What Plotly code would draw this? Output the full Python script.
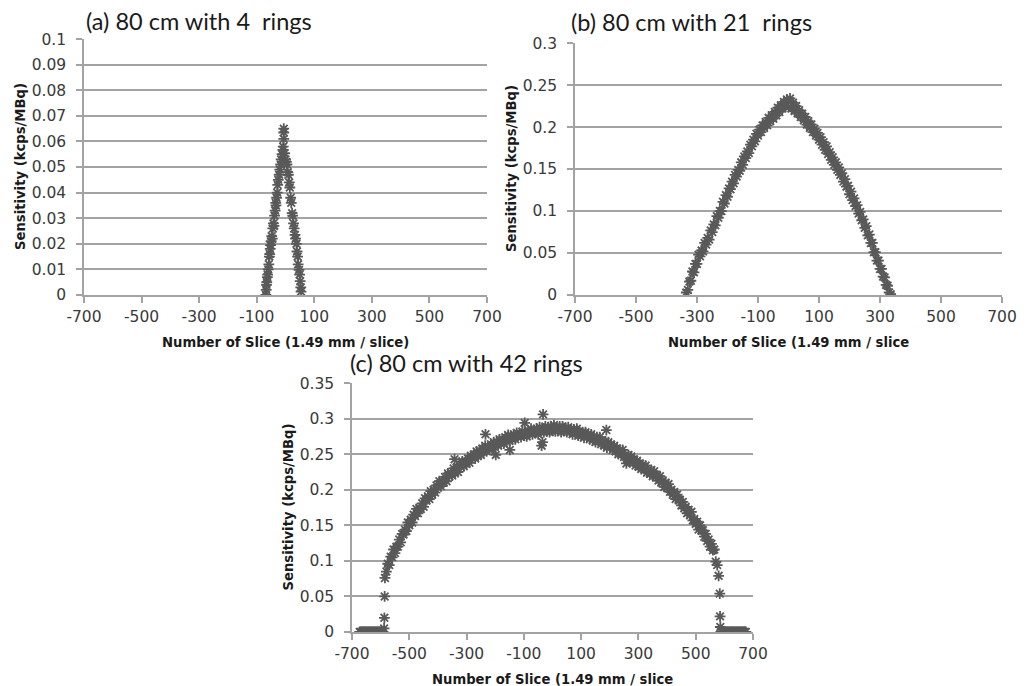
import plotly.graph_objects as go

# ---- (a) 80 cm with 4 rings ----
a_x = [-68, -67, -66, -65, -63, -62, -60, -58, -56, -55, -53, -52, -50, -48, -46, -44,
       -42, -40, -38, -36, -34, -33, -31, -29, -27, -25, -22, -20, -17, -15, -12, -9,
       -8, -6, -6, -6, -3, 0, 3, 5, 8, 10, 13, 15, 18, 20, 23, 25, 28, 30, 33, 35, 38,
       40, 42, 44, 47, 49, 51, 53, 54]
a_y = [0.000, 0.002, 0.004, 0.005, 0.007, 0.008, 0.010, 0.012, 0.015, 0.016, 0.018, 0.0195,
       0.021, 0.023, 0.022, 0.026, 0.028, 0.027, 0.031, 0.033, 0.036, 0.035, 0.038, 0.040,
       0.043, 0.045, 0.047, 0.049, 0.051, 0.053, 0.055, 0.0567, 0.058, 0.061, 0.0635, 0.065,
       0.0554, 0.053, 0.052, 0.051, 0.048, 0.047, 0.044, 0.042, 0.038, 0.036, 0.032, 0.031,
       0.028, 0.026, 0.0235, 0.022, 0.020, 0.017, 0.015, 0.012, 0.0098, 0.008, 0.0054, 0.003,
       0.0013]

# ---- (b) 80 cm with 21 rings ----
b_x = list(range(-335, 336, 5))
b_y = [0.003, 0.006, 0.016, 0.017, 0.028, 0.027, 0.037, 0.037, 0.048, 0.046,
       0.053, 0.052, 0.062, 0.060, 0.068, 0.066, 0.077, 0.075, 0.084, 0.083,
       0.094, 0.092, 0.100, 0.100, 0.111, 0.109, 0.119, 0.117, 0.127, 0.126,
       0.135, 0.133, 0.143, 0.141, 0.149, 0.148, 0.158, 0.155, 0.165, 0.163,
       0.171, 0.169, 0.179, 0.177, 0.185, 0.183, 0.192, 0.190, 0.197, 0.194,
       0.202, 0.199, 0.206, 0.202, 0.211, 0.207, 0.214, 0.210, 0.218, 0.214,
       0.223, 0.218, 0.226, 0.222, 0.230, 0.225, 0.233, 0.224, 0.234, 0.222,
       0.229, 0.219, 0.225, 0.216, 0.220, 0.212, 0.216, 0.208, 0.212, 0.203,
       0.207, 0.199, 0.203, 0.194, 0.198, 0.190, 0.193, 0.185, 0.188, 0.179,
       0.182, 0.173, 0.177, 0.168, 0.170, 0.161, 0.164, 0.155, 0.158, 0.149,
       0.152, 0.143, 0.145, 0.135, 0.138, 0.129, 0.130, 0.120, 0.123, 0.113,
       0.115, 0.106, 0.107, 0.097, 0.099, 0.089, 0.090, 0.080, 0.082, 0.071,
       0.072, 0.062, 0.062, 0.051, 0.051, 0.041, 0.041, 0.031, 0.031, 0.022,
       0.021, 0.012, 0.011, 0.003, 0.001]

# ---- (c) 80 cm with 42 rings ----
c_band_x = list(range(-585, 581, 5))
c_band_y = [0.076, 0.085, 0.096, 0.094, 0.106, 0.105, 0.116, 0.111, 0.120, 0.120,
            0.130, 0.126, 0.138, 0.137, 0.144, 0.142, 0.154, 0.150, 0.158, 0.154,
            0.165, 0.163, 0.173, 0.167, 0.174, 0.173, 0.181, 0.176, 0.188, 0.185,
            0.191, 0.187, 0.198, 0.193, 0.200, 0.196, 0.206, 0.203, 0.212, 0.205,
            0.212, 0.210, 0.218, 0.212, 0.223, 0.219, 0.224, 0.220, 0.230, 0.224,
            0.231, 0.225, 0.235, 0.232, 0.240, 0.233, 0.239, 0.237, 0.244, 0.238,
            0.248, 0.245, 0.249, 0.244, 0.254, 0.248, 0.255, 0.249, 0.258, 0.254,
            0.262, 0.254, 0.260, 0.257, 0.264, 0.257, 0.267, 0.263, 0.267, 0.262,
            0.271, 0.265, 0.271, 0.265, 0.274, 0.269, 0.277, 0.269, 0.275, 0.271,
            0.278, 0.271, 0.280, 0.276, 0.279, 0.274, 0.282, 0.276, 0.281, 0.275,
            0.283, 0.279, 0.286, 0.278, 0.283, 0.280, 0.286, 0.278, 0.288, 0.283,
            0.286, 0.281, 0.289, 0.282, 0.288, 0.281, 0.289, 0.284, 0.291, 0.282,
            0.287, 0.283, 0.289, 0.281, 0.289, 0.284, 0.287, 0.281, 0.288, 0.281,
            0.285, 0.278, 0.285, 0.279, 0.286, 0.276, 0.281, 0.276, 0.281, 0.273,
            0.281, 0.275, 0.278, 0.271, 0.278, 0.270, 0.274, 0.267, 0.274, 0.268,
            0.274, 0.264, 0.268, 0.263, 0.268, 0.259, 0.267, 0.261, 0.263, 0.256,
            0.262, 0.254, 0.258, 0.250, 0.256, 0.250, 0.256, 0.246, 0.249, 0.244,
            0.249, 0.239, 0.247, 0.240, 0.242, 0.234, 0.241, 0.233, 0.237, 0.229,
            0.235, 0.229, 0.234, 0.224, 0.228, 0.223, 0.228, 0.219, 0.226, 0.219,
            0.220, 0.213, 0.219, 0.210, 0.213, 0.204, 0.210, 0.203, 0.208, 0.197,
            0.200, 0.193, 0.197, 0.187, 0.193, 0.186, 0.186, 0.178, 0.183, 0.174,
            0.176, 0.167, 0.172, 0.164, 0.169, 0.157, 0.159, 0.152, 0.155, 0.144,
            0.150, 0.143, 0.143, 0.134, 0.138, 0.128, 0.130, 0.120, 0.124, 0.115,
            0.116, 0.099, 0.094, 0.079]
# scattered slices lying off the main band
c_off_x = [-342, -234, -198, -149, -97, -38, -35, -33, 188, 258]
c_off_y = [0.243, 0.278, 0.249, 0.256, 0.294, 0.262, 0.267, 0.306, 0.284, 0.237]
# edge slices (rising step and the empty slices outside the field of view)
c_edge_x = [-588, -587, -586, 584, 585, 586]
c_edge_y = [0.005, 0.020, 0.050, 0.054, 0.022, 0.007]
c_zero_x = list(range(-673, -590, 3)) + list(range(588, 677, 3))
c_zero_y = [0.0] * len(c_zero_x)

c_x = c_zero_x + c_edge_x + c_band_x + c_off_x
c_y = c_zero_y + c_edge_y + c_band_y + c_off_y

x_tick_vals = [-700, -500, -300, -100, 100, 300, 500, 700]
x_tick_text = ["-700", "-500", "-300", "-100", "100", "300", "500", "700"]

titles = ["(a) 80 cm with 4\u00a0 rings", "(b) 80 cm with 21\u00a0 rings", "(c) 80 cm with 42 rings"]
x_titles = ["Number of Slice (1.49 mm / slice)", "Number of Slice (1.49 mm / slice",
            "Number of Slice (1.49 mm / slice"]
y_title = "Sensitivity (kcps/MBq)"

W, H = 1028, 686
GRID = "#a3a3a3"
MARK = "#595959"
TICK_FONT = dict(family="DejaVu Sans", size=15.5, color="#3a3a3a")
LABEL_FONT = dict(family="DejaVu Sans", size=13.2, color="#1a1a1a")
TITLE_FONT = dict(family="Lato", size=23.5, color="#1a1a1a")

# plot boxes in pixels: left, right, top, bottom
boxes = [(84, 487, 39, 295), (575, 1002, 43, 295), (352, 753, 383, 632)]
title_pos = [(84, 20.5), (569, 22), (348, 363)]
y_max = [0.1, 0.3, 0.35]
y_step = [0.01, 0.05, 0.05]
series = [(a_x, a_y), (b_x, b_y), (c_x, c_y)]

fig = go.Figure()
annotations = []
for i, ((l, r, t, b), (sx, sy)) in enumerate(zip(boxes, series)):
    n = "" if i == 0 else str(i + 1)
    fig.add_trace(go.Scatter(
        x=sx, y=sy, mode="markers", xaxis="x" + n, yaxis="y" + n,
        marker=dict(symbol="asterisk-open", size=9, color=MARK,
                    line=dict(color=MARK, width=1.8)),
        showlegend=False, hoverinfo="x+y"))
    fig.update_layout({
        "xaxis" + n: dict(
            domain=[l / W, r / W], anchor="y" + n, range=[-700, 700], automargin=False,
            tickvals=x_tick_vals, ticktext=x_tick_text, ticks="outside", ticklen=6,
            tickwidth=1.5, tickcolor=GRID, showline=True, linecolor=GRID, linewidth=1.5,
            showgrid=False, zeroline=False, tickfont=TICK_FONT, ticklabelstandoff=1),
        "yaxis" + n: dict(
            domain=[1 - b / H, 1 - t / H], anchor="x" + n, automargin=False,
            range=[0, y_max[i] * 1.0004], dtick=y_step[i], tick0=0,
            ticks="outside", ticklen=6, tickwidth=1.5, tickcolor=GRID,
            showline=True, linecolor=GRID, linewidth=1.5,
            showgrid=True, gridcolor=GRID, gridwidth=1.5, zeroline=False,
            tickfont=TICK_FONT, ticklabelstandoff=7),
    })
    tx, ty = title_pos[i]
    annotations.append(dict(
        text=titles[i], x=tx / W, y=1 - ty / H, xref="paper", yref="paper",
        xanchor="left", yanchor="middle", showarrow=False, font=TITLE_FONT))
    annotations.append(dict(
        text="<b>" + x_titles[i] + "</b>", x=(l + r) / 2 / W, y=1 - (b + 47.5) / H,
        xref="paper", yref="paper", xanchor="center", yanchor="middle",
        showarrow=False, font=LABEL_FONT))
    annotations.append(dict(
        text="<b>" + y_title + "</b>", x=(l - 64) / W, y=1 - (t + b) / 2 / H,
        xref="paper", yref="paper", xanchor="center", yanchor="middle",
        textangle=-90, showarrow=False, font=LABEL_FONT))

fig.update_layout(
    width=W, height=H, margin=dict(l=0, r=0, t=0, b=0),
    paper_bgcolor="white", plot_bgcolor="white", annotations=annotations)

fig.write_html("out.html")
